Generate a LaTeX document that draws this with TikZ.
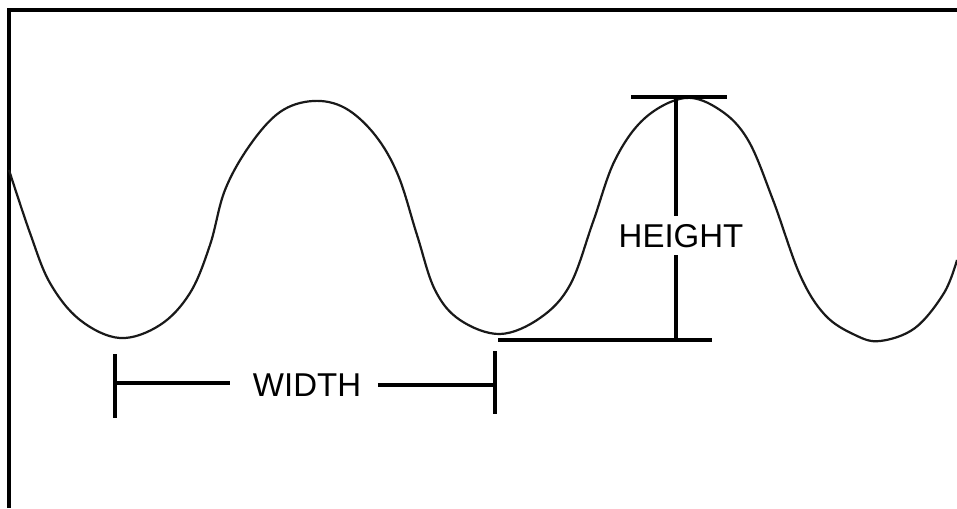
\documentclass[tikz,border=0pt]{standalone}
\usepackage{fontspec}
\setmainfont{Liberation Sans}
\usepackage{tikz}
\usetikzlibrary{positioning}
\tikzset{
  wavefig/.style={
    x=1pt, y=-1pt,
    line width=1.6pt,
    every node/.style={font=\fontsize{33}{36}\selectfont}
  },
  wave/.style={line width=2.2pt, draw=black!90},   % the curve itself
  dimline/.style={line width=3.2pt, draw=black},   % measuring bars
  frameline/.style={line width=3.2pt, draw=black},
  dimlabel/.style={inner sep=0pt}
}
\begin{document}
\begin{tikzpicture}[wavefig]
\useasboundingbox (0,0) rectangle (957,508);

% Frame (left and top edges)
\draw[frameline] (9,508) -- (9,10) -- (957,10);

% The wave
\draw[wave] plot[smooth, tension=0.6] coordinates {
  (9,170) (30,233) (50,283) (80,320) (120,338) (160,325) (190,293)
  (210,245) (225,190) (250,145) (280,112) (313,101) (345,108)
  (375,135) (398,175) (417,235) (435,290) (460,320) (500,334)
  (540,318) (570,285) (593,222) (615,160) (645,118) (685,98)
  (720,110) (748,140) (773,200) (800,275) (825,315) (855,335)
  (880,341) (915,328) (944,293) (957,260)};

% Height bar
\coordinate (htopL) at (631,97);
\coordinate (htopR) at (727,97);
\coordinate (htop) at (676,97);
\coordinate (hbotL) at (498,340);
\coordinate (hbotR) at (712,340);
\coordinate (hbot) at (676,340);
\node[dimlabel] (height) at (681,236) {HEIGHT};
\draw[dimline] (htopL) -- (htopR);
\draw[dimline] (hbotL) -- (hbotR);
\draw[dimline, shorten >=8pt] (htop) -- (htop |- height.north);
\draw[dimline, shorten >=7pt] (hbot) -- (hbot |- height.south);

% Width bar
\coordinate (wleftT) at (115,354);
\coordinate (wleftB) at (115,418);
\coordinate (wrightT) at (495,351);
\coordinate (wrightB) at (495,414);
\coordinate (wleft) at (115,383);
\coordinate (wright) at (495,385);
\node[dimlabel] (width) at (307,385) {WIDTH};
\draw[dimline] (wleftT) -- (wleftB);
\draw[dimline] (wrightT) -- (wrightB);
\draw[dimline] (wleft) -- ([xshift=-22pt]width.west |- wleft);
\draw[dimline] ([xshift=16pt]width.east |- wright) -- (wright);

\end{tikzpicture}
\end{document}
